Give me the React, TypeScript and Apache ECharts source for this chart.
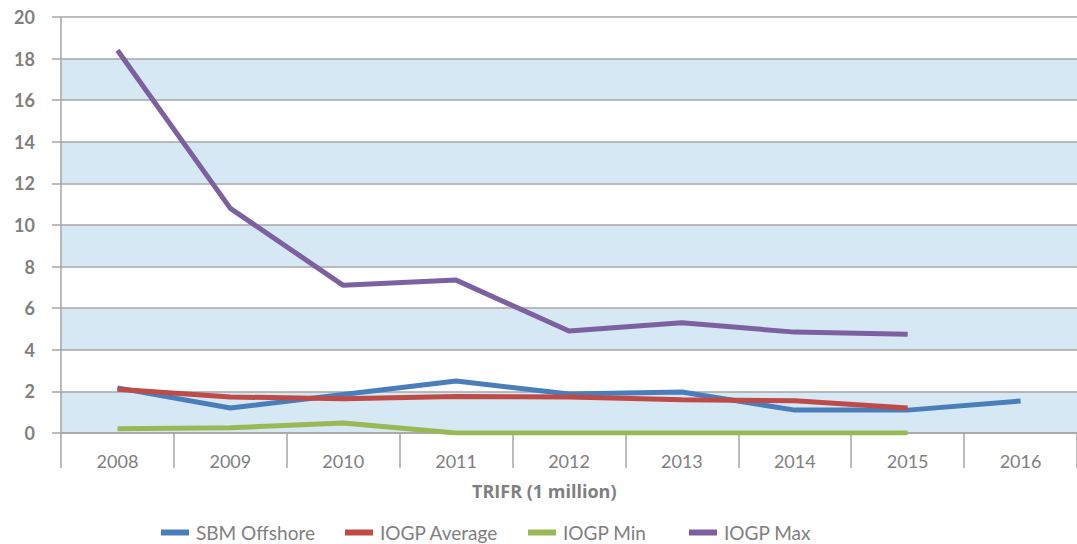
import React, { useEffect, useRef } from "react";
import * as echarts from "echarts";

const years = ["2008", "2009", "2010", "2011", "2012", "2013", "2014", "2015", "2016"];
const sbmOffshore = [2.17, 1.2, 1.85, 2.5, 1.88, 1.97, 1.1, 1.1, 1.54];
const iogpAverage = [2.1, 1.73, 1.65, 1.75, 1.73, 1.6, 1.55, 1.2, null];
const iogpMin = [0.2, 0.25, 0.48, 0, 0, 0, 0, 0, null];
const iogpMax = [18.4, 10.8, 7.1, 7.35, 4.9, 5.3, 4.85, 4.75, null];
const seriesNames = ["SBM Offshore", "IOGP Average", "IOGP Min", "IOGP Max"];
const seriesColors = ["#4a7ebb", "#be4b48", "#98b954", "#7d60a0"];
const yTicks = { min: 0, max: 20, interval: 2 };

const FONT = "Lato, 'Noto Sans', sans-serif";
const legendLefts = [161, 345, 528, 689];

export default function App() {
  const ref = useRef<HTMLDivElement>(null);
  useEffect(() => {
    document.body.style.margin = "0";
    const chart = echarts.init(ref.current!, null, { renderer: "svg" });
    const mk = (name: string, data: any[], color: string) => ({
      name,
      type: "line",
      data,
      symbol: "none",
      showSymbol: false,
      lineStyle: { width: 5, color },
      itemStyle: { color },
      connectNulls: false,
    });
    const datasets = [sbmOffshore, iogpAverage, iogpMin, iogpMax];
    chart.setOption({
      animation: false,
      backgroundColor: "#ffffff",
      textStyle: { fontFamily: FONT },
      grid: { left: 61, right: 0, top: 17, bottom: 111, containLabel: false },
      legend: seriesNames.map((n, i) => ({
        left: legendLefts[i],
        top: 523,
        padding: 0,
        itemWidth: 28,
        itemHeight: 6,
        itemGap: 10,
        icon: "rect",
        textStyle: { fontFamily: FONT, fontSize: 19, color: "#808080", padding: [0, 0, 0, 2] },
        data: [n],
      })),
      xAxis: {
        type: "category",
        data: years,
        boundaryGap: true,
        axisLine: { show: true, lineStyle: { color: "#a6a6a6", width: 1.5 } },
        axisTick: { show: true, length: 35, interval: 0, lineStyle: { color: "#a6a6a6", width: 1.5 } },
        axisLabel: { fontFamily: FONT, fontSize: 18, color: "#808080", margin: 19, interval: 0 },
        splitLine: { show: false },
      },
      yAxis: {
        type: "value",
        min: yTicks.min,
        max: yTicks.max,
        interval: yTicks.interval,
        axisLine: { show: true, lineStyle: { color: "#a6a6a6", width: 1.5 } },
        axisTick: { show: true, length: 9, lineStyle: { color: "#a6a6a6", width: 1.5 } },
        axisLabel: { fontFamily: FONT, fontSize: 18, fontWeight: "bold", color: "#808080", margin: 26, align: "right" },
        splitLine: { show: true, lineStyle: { color: "#a6a6a6", width: 1.5 } },
        splitArea: { show: true, areaStyle: { color: ["#d5e8f3", "#ffffff"] } },
      },
      graphic: [
        {
          type: "text",
          left: 472,
          top: 482,
          style: {
            text: "TRIFR (1 million)",
            fontFamily: "'Open Sans', Lato, sans-serif",
            fontSize: 18,
            fontWeight: "bold",
            fill: "#7f7f7f",
          },
        },
      ],
      series: seriesNames.map((n, i) => mk(n, datasets[i], seriesColors[i])),
    });
    return () => chart.dispose();
  }, []);
  return <div ref={ref} style={{ width: 1077, height: 544 }} />;
}
